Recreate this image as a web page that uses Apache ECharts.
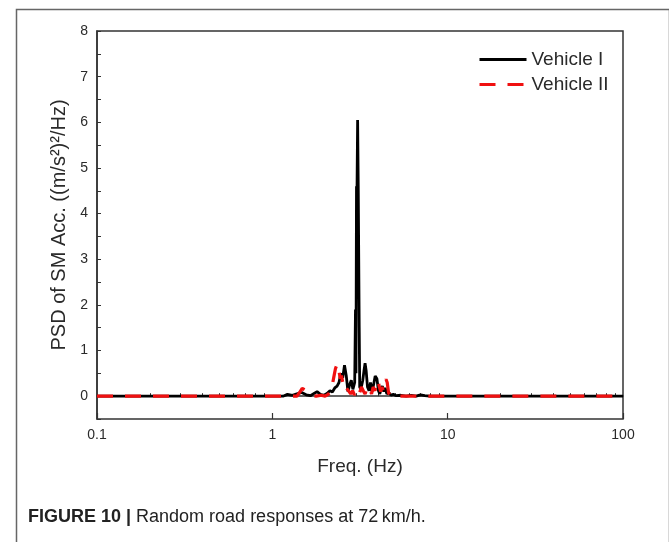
<!DOCTYPE html>
<html>
<head>
<meta charset="utf-8">
<script src="https://cdn.jsdelivr.net/npm/echarts@6/dist/echarts.min.js"></script>
<style>
  html, body { margin: 0; padding: 0; background: #fff; }
  #chart { width: 669px; height: 542px; }
</style>
</head>
<body>
<div id="chart"></div>
<script>
// Vehicle I (black solid)
const freqI = [0.1, 1.15, 1.22, 1.3, 1.38, 1.47, 1.56, 1.65, 1.73, 1.8, 1.88, 1.97, 2.05, 2.13, 2.2, 2.27,
  2.34, 2.4, 2.46, 2.52, 2.58, 2.64, 2.7, 2.76, 2.82, 2.88, 2.95, 2.98, 3.0, 3.02, 3.04, 3.065, 3.09, 3.11,
  3.13, 3.15, 3.2, 3.24, 3.28, 3.33, 3.38, 3.43, 3.49, 3.56, 3.63, 3.7, 3.78, 3.86, 3.95, 4.03, 4.1, 4.17,
  4.24, 4.32, 4.4, 4.5, 4.62, 4.75, 4.9, 5.1, 5.4, 5.8, 6.2, 6.6, 7.0, 7.4, 7.9, 8.5, 100];
const psdI = [0, 0, 0.04, 0.02, 0.05, 0.08, 0.03, 0.01, 0.06, 0.1, 0.04, 0.02, 0.06, 0.12, 0.09, 0.18,
  0.22, 0.3, 0.5, 0.4, 0.68, 0.45, 0.1, 0.25, 0.35, 0.15, 0.3, 1.9, 0.5, 4.6, 4.5, 6.05, 4.6, 4.6,
  1.5, 0.2, 0.15, 0.12, 0.35, 0.55, 0.72, 0.55, 0.2, 0.12, 0.3, 0.1, 0.25, 0.44, 0.38, 0.12, 0.05, 0.15,
  0.22, 0.1, 0.18, 0.05, 0.08, 0.02, 0.04, 0.01, 0.02, 0, 0.02, 0, 0.03, 0.01, 0, 0, 0];

// Vehicle II (red dashed)
const freqII = [0.1, 1.38, 1.43, 1.48, 1.53, 1.6, 1.68, 1.78, 1.9, 2.0, 2.08, 2.15, 2.2, 2.25, 2.29, 2.32,
  2.36, 2.4, 2.44, 2.48, 2.52, 2.57, 2.62, 2.68, 2.74, 2.8, 2.87, 2.94, 3.0, 3.08, 3.15, 3.22, 3.3, 3.38,
  3.45, 3.52, 3.6, 3.68, 3.76, 3.85, 3.93, 4.0, 4.08, 4.15, 4.22, 4.3, 4.38, 4.45, 4.52, 4.6, 4.7, 100];
const psdII = [0, 0, 0.08, 0.17, 0.14, 0.06, 0.02, 0, 0.02, 0, 0.04, 0.1, 0.25, 0.45, 0.6, 0.66,
  0.5, 0.55, 0.38, 0.45, 0.3, 0.35, 0.2, 0.22, 0.1, 0.05, 0.12, 0.03, 0.08, 0.18, 0.08, 0.2, 0.12, 0.05,
  0.15, 0.08, 0.15, 0.05, 0.2, 0.12, 0.3, 0.35, 0.2, 0.1, 0.2, 0.12, 0.28, 0.37, 0.3, 0.08, 0, 0];

const xMajor = [0.1, 1, 10, 100];
const xMinor = [0.2, 0.3, 0.4, 0.5, 0.6, 0.7, 0.8, 0.9, 2, 3, 4, 5, 6, 7, 8, 9, 20, 30, 40, 50, 60, 70, 80, 90];

const font = 'Liberation Sans, Arial, sans-serif';
const axisColor = '#333';
const textColor = '#2a2a2a';

const chart = echarts.init(document.getElementById('chart'), null, { renderer: 'canvas' });

const pairs = (xs, ys) => xs.map((x, i) => [x, ys[i]]);

const option = {
  animation: false,
  backgroundColor: '#fff',
  textStyle: { fontFamily: font },
  grid: {
    left: 97, right: 46, top: 31, bottom: 123,
    show: true, borderColor: axisColor, borderWidth: 1.5, backgroundColor: 'transparent'
  },
  legend: {
    orient: 'vertical',
    left: 473, top: 45,
    itemWidth: 47, itemHeight: 14, itemGap: 6,
    itemStyle: { opacity: 0 },
    lineStyle: { width: 3 },
    textStyle: { fontSize: 19, color: textColor, fontFamily: font },
    data: ['Vehicle I', 'Vehicle II']
  },
  xAxis: [
    {
      type: 'log', logBase: 10, min: 0.1, max: 100,
      name: 'Freq. (Hz)', nameLocation: 'middle', nameGap: 38,
      nameTextStyle: { fontSize: 19, color: textColor },
      axisLine: { lineStyle: { color: axisColor, width: 1.5 } },
      axisTick: { inside: true, length: 3, customValues: xMinor, lineStyle: { color: axisColor } },
      axisLabel: {
        customValues: xMajor, fontSize: 14, color: textColor, margin: 9,
        formatter: v => String(v)
      },
      splitLine: { show: false }
    },
    {
      type: 'log', logBase: 10, min: 0.1, max: 100, position: 'bottom',
      axisLine: { show: false },
      axisTick: { inside: true, length: 6, customValues: xMajor, lineStyle: { color: axisColor, width: 1.2 } },
      axisLabel: { show: false },
      splitLine: { show: false }
    }
  ],
  yAxis: {
    type: 'value', min: -0.5, max: 8, interval: 0.5,
    name: 'PSD of SM Acc. ((m/s²)²/Hz)', nameLocation: 'middle', nameGap: 25,
    nameTextStyle: { fontSize: 20, color: textColor },
    axisLine: { lineStyle: { color: axisColor, width: 1.5 } },
    axisTick: { inside: true, length: 4, lineStyle: { color: axisColor } },
    axisLabel: {
      fontSize: 14, color: textColor, margin: 9,
      formatter: v => (Number.isInteger(v) && v >= 0 ? String(v) : '')
    },
    splitLine: { show: false }
  },
  series: [
    {
      name: 'Vehicle I', type: 'line', xAxisIndex: 0,
      data: pairs(freqI, psdI),
      symbol: 'none', color: '#000',
      lineStyle: { color: '#000', width: 2.8 }
    },
    {
      name: 'Vehicle II', type: 'line', xAxisIndex: 0,
      data: pairs(freqII, psdII),
      symbol: 'none', color: '#f01010',
      lineStyle: { color: '#f01010', width: 3.2, type: [16, 12] }
    }
  ],
  graphic: [
    {
      type: 'rect', left: 14, top: 7, silent: true,
      shape: { width: 653, height: 560 },
      style: { fill: 'none', stroke: '#666', lineWidth: 1.5 }
    },
    {
      type: 'text', left: 28, top: 508,
      style: {
        text: '{b|FIGURE 10 |} Random road responses at 72\u2009km/h.',
        rich: {
          b: { fontWeight: 'bold', fontSize: 18, fill: '#222', fontFamily: font }
        },
        fontSize: 18, fill: '#222', fontFamily: font
      }
    }
  ]
};

chart.setOption(option);
window.addEventListener('resize', chart.resize);
</script>
</body>
</html>
